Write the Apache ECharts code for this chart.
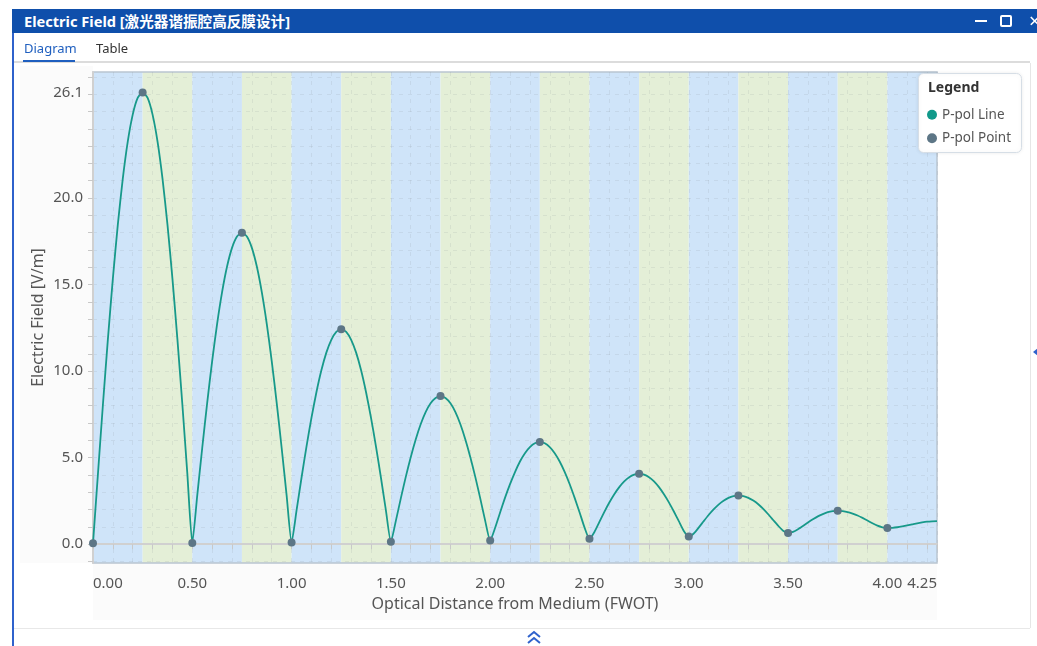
<!DOCTYPE html>
<html>
<head>
<meta charset="utf-8">
<script src="https://cdn.jsdelivr.net/npm/echarts@6/dist/echarts.min.js"></script>
<style>
  html, body { margin: 0; padding: 0; width: 1037px; height: 646px; overflow: hidden; background: #fff;
    font-family: "Noto Sans", "Noto Sans CJK SC", sans-serif; }
  .abs { position: absolute; }
  #titlebar { left: 12px; top: 9px; width: 1025px; height: 24px; background: #0f4fab; color: #fff;
    font-weight: bold; font-size: 14.6px; line-height: 24px; padding-left: 12px; box-sizing: border-box;
    font-family: "Noto Sans", "Noto Sans CJK SC", sans-serif; white-space: nowrap; }
  #chart { left: 0; top: 0; width: 1037px; height: 646px; }
</style>
</head>
<body>
<div class="abs" style="left:20px;top:66px;width:73px;height:497px;background:#fbfbfb;"></div>
<div class="abs" style="left:93px;top:563px;width:844px;height:57px;background:#fbfbfb;"></div>
<div id="chart" class="abs"></div>

<div id="titlebar" class="abs">Electric Field [激光器谐振腔高反膜设计]</div>
<div class="abs" style="left:975px;top:20px;width:12px;height:2px;background:#fff;"></div>
<div class="abs" style="left:1000px;top:15px;width:8px;height:8px;border:2px solid #fff;border-radius:2px;"></div>
<div class="abs" style="left:1029px;top:8px;color:#fff;font-size:20px;line-height:26px;">×</div>
<div class="abs" style="left:12px;top:33px;width:2px;height:613px;background:#2f62cc;"></div>
<div class="abs" style="left:24px;top:39px;font-size:13px;color:#1f5fbf;">Diagram</div>
<div class="abs" style="left:96px;top:39px;font-size:13px;color:#333;">Table</div>
<div class="abs" style="left:14px;top:61px;width:1016px;height:2px;background:#dcdcdc;"></div>
<div class="abs" style="left:23px;top:60px;width:52px;height:2px;background:#1f5fbf;"></div>
<div class="abs" style="left:1030px;top:63px;width:1px;height:565px;background:#e6e6e6;"></div>
<div class="abs" style="left:1033px;top:348px;width:0;height:0;border-top:4px solid transparent;border-bottom:4px solid transparent;border-right:5px solid #2f62cc;"></div>
<div class="abs" style="left:14px;top:628px;width:1016px;height:1px;background:#e8e8e8;"></div>
<svg class="abs" style="left:526px;top:630px;" width="16" height="16" viewBox="0 0 16 16">
  <polyline points="2,7 8,2 14,7" fill="none" stroke="#2f62cc" stroke-width="2"/>
  <polyline points="2,13 8,8 14,13" fill="none" stroke="#2f62cc" stroke-width="2"/>
</svg>

<script>
// ---- data ----
const distance = [
  0, 0.025, 0.05, 0.075, 0.1, 0.125, 0.15, 0.175, 0.2, 0.225,
  0.25, 0.275, 0.3, 0.325, 0.35, 0.375, 0.4, 0.425, 0.45, 0.475,
  0.5, 0.525, 0.55, 0.575, 0.6, 0.625, 0.65, 0.675, 0.7, 0.725,
  0.75, 0.775, 0.8, 0.825, 0.85, 0.875, 0.9, 0.925, 0.95, 0.975,
  1.0, 1.025, 1.05, 1.075, 1.1, 1.125, 1.15, 1.175, 1.2, 1.225,
  1.25, 1.275, 1.3, 1.325, 1.35, 1.375, 1.4, 1.425, 1.45, 1.475,
  1.5, 1.525, 1.55, 1.575, 1.6, 1.625, 1.65, 1.675, 1.7, 1.725,
  1.75, 1.775, 1.8, 1.825, 1.85, 1.875, 1.9, 1.925, 1.95, 1.975,
  2.0, 2.025, 2.05, 2.075, 2.1, 2.125, 2.15, 2.175, 2.2, 2.225,
  2.25, 2.275, 2.3, 2.325, 2.35, 2.375, 2.4, 2.425, 2.45, 2.475,
  2.5, 2.525, 2.55, 2.575, 2.6, 2.625, 2.65, 2.675, 2.7, 2.725,
  2.75, 2.775, 2.8, 2.825, 2.85, 2.875, 2.9, 2.925, 2.95, 2.975,
  3.0, 3.025, 3.05, 3.075, 3.1, 3.125, 3.15, 3.175, 3.2, 3.225,
  3.25, 3.275, 3.3, 3.325, 3.35, 3.375, 3.4, 3.425, 3.45, 3.475,
  3.5, 3.525, 3.55, 3.575, 3.6, 3.625, 3.65, 3.675, 3.7, 3.725,
  3.75, 3.775, 3.8, 3.825, 3.85, 3.875, 3.9, 3.925, 3.95, 3.975,
  4.0, 4.025, 4.05, 4.075, 4.1, 4.125, 4.15, 4.175, 4.2, 4.225,
  4.25
];
const field = [
  0.05, 4.08, 8.07, 11.85, 15.34, 18.46, 21.12, 23.26, 24.82, 25.78,
  26.1, 25.78, 24.82, 23.26, 21.12, 18.46, 15.34, 11.85, 8.07, 4.08,
  0.07, 2.82, 5.56, 8.17, 10.58, 12.73, 14.56, 16.04, 17.12, 17.78,
  18.0, 17.78, 17.12, 16.04, 14.56, 12.73, 10.58, 8.17, 5.56, 2.82,
  0.10, 1.95, 3.84, 5.64, 7.30, 8.78, 10.05, 11.07, 11.81, 12.27,
  12.42, 12.27, 11.81, 11.07, 10.05, 8.78, 7.30, 5.64, 3.84, 1.95,
  0.14, 1.35, 2.65, 3.89, 5.03, 6.05, 6.93, 7.63, 8.14, 8.45,
  8.56, 8.45, 8.14, 7.63, 6.93, 6.05, 5.03, 3.89, 2.65, 1.35,
  0.21, 0.95, 1.83, 2.69, 3.47, 4.17, 4.78, 5.26, 5.61, 5.83,
  5.90, 5.83, 5.61, 5.26, 4.78, 4.18, 3.48, 2.69, 1.85, 0.97,
  0.31, 0.71, 1.29, 1.87, 2.41, 2.89, 3.30, 3.63, 3.87, 4.02,
  4.07, 4.02, 3.87, 3.63, 3.30, 2.89, 2.42, 1.89, 1.33, 0.77,
  0.44, 0.62, 0.96, 1.33, 1.69, 2.01, 2.29, 2.51, 2.68, 2.78,
  2.81, 2.78, 2.68, 2.52, 2.31, 2.04, 1.73, 1.40, 1.07, 0.78,
  0.65, 0.71, 0.86, 1.05, 1.25, 1.44, 1.61, 1.74, 1.85, 1.91,
  1.93, 1.91, 1.86, 1.77, 1.66, 1.52, 1.37, 1.21, 1.07, 0.98,
  0.94, 0.95, 0.98, 1.03, 1.09, 1.15, 1.21, 1.26, 1.30, 1.32,
  1.33
];
const pointDistance = [0, 0.25, 0.5, 0.75, 1.0, 1.25, 1.5, 1.75, 2.0, 2.25, 2.5, 2.75, 3.0, 3.25, 3.5, 3.75, 4.0];
const pointField = [0.05, 26.1, 0.07, 18.0, 0.10, 12.42, 0.14, 8.56, 0.21, 5.90, 0.31, 4.07, 0.44, 2.81, 0.65, 1.93, 0.94];
const layerEdges = [0, 0.25, 0.5, 0.75, 1.0, 1.25, 1.5, 1.75, 2.0, 2.25, 2.5, 2.75, 3.0, 3.25, 3.5, 3.75, 4.0, 4.25];
const layerMaterial = ['H', 'L', 'H', 'L', 'H', 'L', 'H', 'L', 'H', 'L', 'H', 'L', 'H', 'L', 'H', 'L', 'H'];
const xTickLabels = [0, 0.5, 1.0, 1.5, 2.0, 2.5, 3.0, 3.5, 4.0, 4.25];
const yTickLabels = [0, 5, 10, 15, 20, 26.1];
const seriesNames = ['P-pol Line', 'P-pol Point'];

// ---- build ----
const lineData = distance.map((d, i) => [d, field[i]]);
const pointData = pointDistance.map((d, i) => [d, pointField[i]]);
const materialColor = { H: '#cfe4f9', L: '#e4efd7' };
const bands = layerMaterial.map((m, i) => [
  { xAxis: layerEdges[i], itemStyle: { color: materialColor[m] } },
  { xAxis: layerEdges[i + 1] }
]);
const xMinorTicks = [];
for (let i = 0; i <= 42; i++) xMinorTicks.push(Math.round(i * 10) / 100);
xMinorTicks.push(4.25);
const yMinorTicks = [];
for (let v = -1; v <= 27; v++) yMinorTicks.push(v);

const FONT = '"Noto Sans", "Noto Sans CJK SC", sans-serif';
const chart = echarts.init(document.getElementById('chart'), null, { renderer: 'canvas' });
chart.setOption({
  animation: false,
  backgroundColor: 'transparent',
  textStyle: { fontFamily: FONT },
  grid: { left: 93, right: 100, top: 72, bottom: 83, show: true, borderColor: '#b9c5d1', borderWidth: 1.5,
    backgroundColor: 'transparent', z: 2, outerBoundsMode: 'none' },
  legend: {
    orient: 'vertical', left: 927, top: 108, padding: 0, itemGap: 10, itemWidth: 10, itemHeight: 10,
    icon: 'circle', z: 30, data: seriesNames,
    textStyle: { color: '#555', fontSize: 13.5, fontFamily: FONT }
  },
  graphic: [
    { type: 'rect', left: 918, top: 73, z: 25, shape: { width: 103, height: 79, r: 5 },
      style: { fill: '#fff', stroke: '#d6dee6', lineWidth: 1, shadowBlur: 4, shadowColor: 'rgba(0,0,0,0.08)' } },
    { type: 'text', left: 928, top: 81, z: 26,
      style: { text: 'Legend', fill: '#333', font: 'bold 14px ' + FONT } }
  ],
  xAxis: {
    type: 'value', min: 0, max: 4.25, z: 2,
    name: 'Optical Distance from Medium (FWOT)', nameLocation: 'middle', nameGap: 33, nameMoveOverlap: false,
    nameTextStyle: { color: '#555', fontSize: 16, fontFamily: FONT },
    axisLine: { show: true, lineStyle: { color: '#d0d0d0', width: 2 } },
    axisTick: { show: true, length: 5, customValues: xMinorTicks, lineStyle: { color: '#c8c8c8' } },
    axisLabel: { customValues: xTickLabels, color: '#555', fontSize: 15, margin: 13,
      alignMinLabel: 'left', alignMaxLabel: 'right',
      formatter: v => Number(v).toFixed(2) },
    splitLine: { show: true, lineStyle: { color: 'rgba(120,130,140,0.13)', type: [4, 5], width: 1 } }
  },
  yAxis: {
    type: 'value', min: -1.085, max: 27.28, z: 2,
    name: 'Electric Field [V/m]', nameLocation: 'middle', nameGap: 47, nameRotate: 90, nameMoveOverlap: false,
    nameTextStyle: { color: '#555', fontSize: 16, fontFamily: FONT },
    axisLine: { show: true, lineStyle: { color: '#d0d0d0', width: 2 } },
    axisTick: { show: true, length: 5, customValues: yMinorTicks, lineStyle: { color: '#c8c8c8' } },
    axisLabel: { customValues: yTickLabels, color: '#555', fontSize: 15, margin: 10,
      formatter: v => Number(v).toFixed(1) },
    splitLine: { show: true, lineStyle: { color: 'rgba(120,130,140,0.13)', type: [4, 5], width: 1 } }
  },
  series: [
    {
      name: seriesNames[0], type: 'line', data: lineData, showSymbol: false, symbol: 'none',
      smooth: 0.2, z: 3, color: '#17998a',
      lineStyle: { color: '#17998a', width: 1.8 },
      itemStyle: { color: '#11998a' },
      markArea: { silent: true, z: 1, data: bands }
    },
    {
      name: seriesNames[1], type: 'scatter', data: pointData, symbol: 'circle', symbolSize: 8, z: 4,
      itemStyle: { color: '#5d7686', opacity: 1 }
    }
  ]
});
</script>
</body>
</html>
